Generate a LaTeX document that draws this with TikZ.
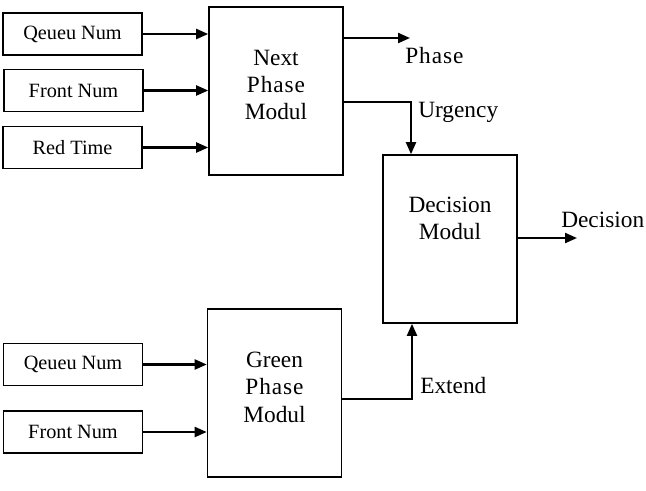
\documentclass[tikz,border=0pt]{standalone}
\usepackage{fontspec}
\setmainfont{Liberation Serif}
\newfontfamily\spaced[LetterSpace=4]{Liberation Serif}
\usetikzlibrary{arrows.meta}

\tikzset{
  inbox/.style={draw, line width=1.2pt, minimum width=104pt, minimum height=31.5pt,
    font=\fontsize{15.2}{18}\selectfont},
  modbox/.style={draw, line width=1.2pt, minimum width=100.5pt, minimum height=126pt},
  modtext/.style={font=\fontsize{17.5}{20.6}\selectfont, align=center},
  outtext/.style={font=\fontsize{17.5}{20.6}\selectfont, inner sep=0pt, anchor=base west},
  arr/.style={line width=1.6pt, -{Triangle[length=9pt,width=7.5pt]}}
}

\begin{document}
\begin{tikzpicture}[x=0.75pt,y=-0.75pt]
\useasboundingbox (0,0) rectangle (646,490);
% inputs
\node[inbox] (qn1) at (72.5,34) {Qeueu Num};
\node[inbox] (fn1) at (73.5,90.5) {Front Num};
\node[inbox] (rt) at (72.5,147.5) {Red Time};
\node[inbox] (qn2) at (73,364.5) {Qeueu Num};
\node[inbox] (fn2) at (73,432) {Front Num};
% modules
\node[modbox, label={[modtext,yshift=4.5pt]center:Next\\{\spaced Phase}\\Modul}] (next) at (276,91) {};
\node[modbox, label={[modtext,yshift=15.4pt]center:Decision\\Modul}] (dec) at (450,239) {};
\node[modbox, label={[modtext,yshift=4.5pt]center:Green\\{\spaced Phase}\\Modul}] (green) at (274.5,393) {};
% free ends
\coordinate (phaseEnd) at (410,38);
\coordinate (urg) at (411,102);
\coordinate (ext) at (412,399);
\coordinate (decEnd) at (577,238);
% connectors
\foreach \n in {qn1,fn1,rt}
  \draw[arr] (\n) -- (\n -| next.west);
\foreach \n in {qn2,fn2}
  \draw[arr] (\n) -- (\n -| green.west);
\draw[arr] (next.east |- phaseEnd) -- (phaseEnd);
\draw[arr] (next.east |- urg) -- (urg) -- (urg |- dec.north);
\draw[arr] (green.east |- ext) -- (ext) -- (ext |- dec.south);
\draw[arr] (dec.east |- decEnd) -- (decEnd);
% output labels
\node[outtext] (phaseLbl) at (405,63) {\spaced Phase};
\node[outtext] (urgLbl) at (418,117) {Urgency};
\node[outtext] (extLbl) at (420,393) {Extend};
\node[outtext] (decLbl) at (561,227) {Decision};
\end{tikzpicture}
\end{document}
